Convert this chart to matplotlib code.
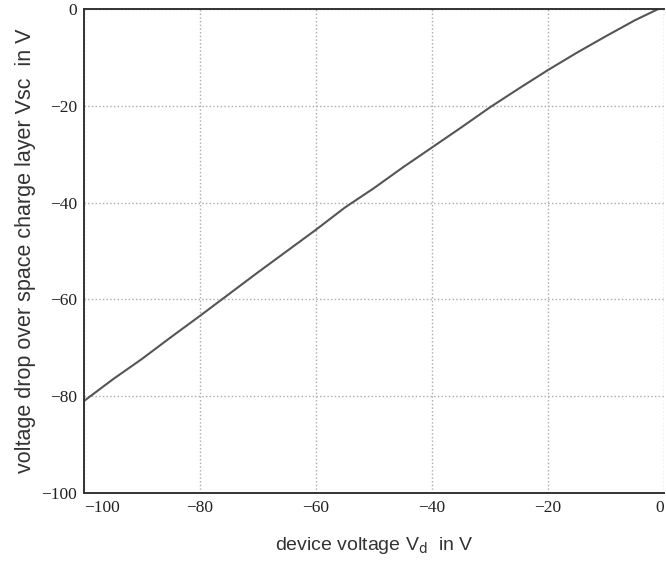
import numpy as np
import matplotlib.pyplot as plt

# device voltage (V) and voltage drop over space charge layer (V)
vd = [-100, -95, -90, -85, -80, -75, -70, -65, -60, -55, -50, -45, -40,
      -35, -30, -25, -20, -15, -10, -5, -1]
vsc = [-81, -76.5, -72.3, -67.8, -63.4, -58.9, -54.4, -50, -45.6, -41, -37,
       -32.7, -28.6, -24.5, -20.3, -16.4, -12.6, -9, -5.6, -2.3, 0]

xticks = [-100, -80, -60, -40, -20, 0]
yticks = [-100, -80, -60, -40, -20, 0]

fig = plt.figure(figsize=(6.66, 5.67), dpi=100)
ax = fig.add_axes([0.126, 0.1305, 0.871, 0.8535])
ax.plot(vd, vsc, '-', color='#555555', linewidth=1.5)

ax.set_xlim(-100, 0)
ax.set_ylim(-100, 0)
ax.set_xticks(xticks)
ax.set_yticks(yticks)
ax.grid(True, linestyle=':', color='#aaaaaa', linewidth=1.0)
ax.tick_params(length=0, labelsize=12.5, colors='#222222', pad=5)
for lab in ax.get_xticklabels() + ax.get_yticklabels():
    lab.set_family('Liberation Serif')
xl = ax.get_xticklabels()
xl[0].set_horizontalalignment('left')
xl[-1].set_horizontalalignment('right')
for s in ax.spines.values():
    s.set_color('#333333')
    s.set_linewidth(1.4)
ax.spines['right'].set_visible(False)

ax.set_xlabel('device voltage V$_\\mathrm{d}$  in V', fontsize=14,
              family='Liberation Sans', color='#333333', labelpad=14)
ax.set_ylabel('voltage drop over space charge layer Vsc  in V', fontsize=15.5,
              family='Liberation Sans', color='#333333', labelpad=4)

plt.savefig('out.png', dpi=100)
